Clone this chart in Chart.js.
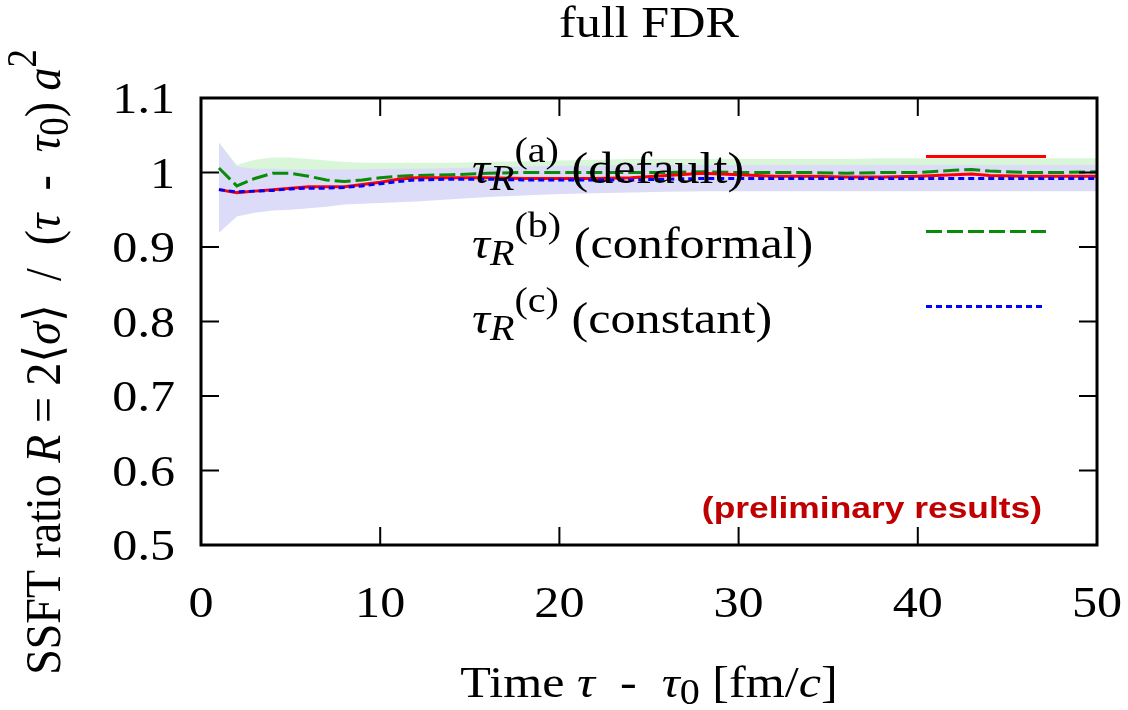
<!DOCTYPE html>
<html>
<head>
<meta charset="utf-8">
<script src="https://cdn.jsdelivr.net/npm/chart.js@4.4.0/dist/chart.umd.min.js"></script>
<style>
  body { margin: 0; background: #fff; }
  #wrap { width: 1128px; height: 710px; position: relative; }
</style>
</head>
<body>
<div id="wrap"><canvas id="grafico"></canvas></div>
<script>
// tempo tau - tau0 [fm/c]
const tempos = [1, 2, 3, 4, 5, 6, 7, 8, 9, 10, 11, 12, 14, 16, 18, 20, 22, 24, 26, 28, 30, 32, 34, 36, 38, 40, 42, 43, 44, 46, 48, 50];

// curvas
const razaoDefault = [0.977, 0.973, 0.975, 0.977, 0.979, 0.981, 0.981, 0.981, 0.984, 0.987, 0.991, 0.993, 0.993, 0.993, 0.992, 0.992, 0.992, 0.993, 0.996, 0.999, 0.997, 0.995, 0.995, 0.994, 0.994, 0.995, 0.997, 0.998, 0.996, 0.995, 0.995, 0.995];
const razaoConformal = [1.006, 0.982, 0.992, 0.999, 0.999, 0.995, 0.990, 0.988, 0.990, 0.993, 0.995, 0.996, 0.997, 0.999, 1.000, 1.000, 1.000, 1.000, 1.000, 1.001, 1.000, 1.000, 1.000, 0.999, 1.000, 1.000, 1.003, 1.004, 1.002, 1.000, 1.000, 1.001];
const razaoConstant = [0.977, 0.974, 0.975, 0.976, 0.978, 0.979, 0.979, 0.980, 0.982, 0.985, 0.988, 0.990, 0.991, 0.991, 0.990, 0.990, 0.990, 0.990, 0.991, 0.992, 0.992, 0.992, 0.992, 0.992, 0.992, 0.992, 0.992, 0.992, 0.992, 0.992, 0.992, 0.992];

// faixas de erro
const faixaAzulSup = [1.040, 1.008, 1.005, 1.005, 1.004, 1.004, 1.004, 1.004, 1.004, 1.005, 1.005, 1.005, 1.006, 1.007, 1.008, 1.009, 1.009, 1.010, 1.010, 1.010, 1.010, 1.010, 1.010, 1.010, 1.010, 1.010, 1.010, 1.010, 1.010, 1.010, 1.010, 1.010];
const faixaAzulInf = [0.919, 0.941, 0.946, 0.949, 0.950, 0.952, 0.954, 0.957, 0.958, 0.959, 0.960, 0.961, 0.964, 0.967, 0.969, 0.971, 0.972, 0.973, 0.974, 0.975, 0.975, 0.975, 0.975, 0.975, 0.975, 0.975, 0.975, 0.975, 0.975, 0.975, 0.975, 0.975];
const faixaVerdeSup = [1.040, 1.010, 1.017, 1.020, 1.020, 1.018, 1.016, 1.014, 1.013, 1.013, 1.013, 1.013, 1.013, 1.014, 1.015, 1.016, 1.017, 1.018, 1.018, 1.018, 1.018, 1.018, 1.018, 1.018, 1.019, 1.019, 1.019, 1.019, 1.019, 1.019, 1.019, 1.019];
const faixaVerdeInf = [0.985, 0.962, 0.972, 0.979, 0.980, 0.976, 0.972, 0.970, 0.971, 0.973, 0.975, 0.976, 0.977, 0.979, 0.980, 0.980, 0.980, 0.980, 0.980, 0.981, 0.980, 0.980, 0.980, 0.979, 0.980, 0.980, 0.983, 0.984, 0.982, 0.980, 0.980, 0.981];

const ticksX = [0, 10, 20, 30, 40, 50];
const ticksY = [0.5, 0.6, 0.7, 0.8, 0.9, 1.0, 1.1];
const rotulosY = ["0.5", "0.6", "0.7", "0.8", "0.9", "1", "1.1"];

const SERIF = '"Liberation Serif", "Times New Roman", "DejaVu Serif", serif';
const TAM = 44;     // tamanho da fonte
const SX = 1.14;    // o original esta esticado na horizontal

function pontos(valores) {
  return tempos.map((t, i) => ({ x: t, y: valores[i] }));
}

function fonte(s, tam) {
  return (s.i ? 'italic ' : '') + tam + 'px ' + SERIF;
}

function escrever(ctx, segs, x, y, tam, opts) {
  ctx.save();
  ctx.translate(x, y);
  if (opts.rot) ctx.rotate(opts.rot);
  ctx.scale(opts.sx || 1, opts.sy || 1);
  let w = 0;
  for (const s of segs) {
    ctx.font = fonte(s, (s.sub || s.sup) ? tam * 0.8 : tam);
    w += ctx.measureText(s.t).width;
  }
  let cx = opts.align === 'center' ? -w / 2 : opts.align === 'right' ? -w : 0;
  ctx.textAlign = 'left';
  ctx.textBaseline = 'alphabetic';
  ctx.fillStyle = opts.cor || '#000';
  for (const s of segs) {
    const t = (s.sub || s.sup) ? tam * 0.8 : tam;
    ctx.font = fonte(s, t);
    const dy = s.sub ? tam * 0.16 : s.sup ? -tam * 0.46 : 0;
    ctx.fillText(s.t, cx, dy);
    cx += ctx.measureText(s.t).width;
  }
  ctx.restore();
}

const legendas = [
  { segs: [{ t: 'τ', i: 1 }, { t: 'R', i: 1, sub: 1 }, { t: '(a)', sup: 1 }, { t: ' (default)' }], cor: '#ff0000', dash: [] },
  { segs: [{ t: 'τ', i: 1 }, { t: 'R', i: 1, sub: 1 }, { t: '(b)', sup: 1 }, { t: ' (conformal)' }], cor: '#0a8c0a', dash: [16, 5] },
  { segs: [{ t: 'τ', i: 1 }, { t: 'R', i: 1, sub: 1 }, { t: '(c)', sup: 1 }, { t: ' (constant)' }], cor: '#0000ff', dash: [6, 4] }
];

const moldura = {
  id: 'moldura',
  afterDatasetsDraw(chart) {
    const ctx = chart.ctx;
    const ca = chart.chartArea;
    const sx = chart.scales.x, sy = chart.scales.y;

    // legenda
    legendas.forEach((l, i) => {
      escrever(ctx, l.segs, ca.left + 271, ca.top + 84.5 + i * 75, TAM, { sx: SX });
      ctx.save();
      ctx.strokeStyle = l.cor;
      ctx.lineWidth = 3;
      ctx.setLineDash(l.dash);
      ctx.beginPath();
      ctx.moveTo(ca.left + 725, ca.top + 58.5 + i * 75);
      ctx.lineTo(ca.left + 845, ca.top + 58.5 + i * 75);
      ctx.stroke();
      ctx.restore();
    });

    // (preliminary results)
    ctx.save();
    ctx.translate(ca.right - 55, ca.bottom - 27);
    ctx.scale(1.22, 1);
    ctx.font = 'bold 29px "Liberation Sans", Arial, sans-serif';
    ctx.fillStyle = '#c00000';
    ctx.textAlign = 'right';
    ctx.textBaseline = 'alphabetic';
    ctx.fillText('(preliminary results)', 0, 0);
    ctx.restore();

    // ticks para dentro
    ctx.save();
    ctx.strokeStyle = '#000';
    ctx.lineWidth = 2;
    ctx.beginPath();
    ticksX.forEach(v => {
      const px = sx.getPixelForValue(v);
      ctx.moveTo(px, ca.bottom); ctx.lineTo(px, ca.bottom - 18);
      ctx.moveTo(px, ca.top); ctx.lineTo(px, ca.top + 18);
    });
    ticksY.forEach(v => {
      const py = sy.getPixelForValue(v);
      ctx.moveTo(ca.left, py); ctx.lineTo(ca.left + 18, py);
      ctx.moveTo(ca.right, py); ctx.lineTo(ca.right - 18, py);
    });
    ctx.stroke();
    ctx.lineWidth = 3;
    ctx.strokeRect(ca.left, ca.top, ca.right - ca.left, ca.bottom - ca.top);
    ctx.restore();

    // rotulos dos ticks
    ticksY.forEach((v, i) => {
      escrever(ctx, [{ t: rotulosY[i] }], ca.left - 26, sy.getPixelForValue(v) + 15, TAM, { sx: SX, align: 'right' });
    });
    ticksX.forEach(v => {
      escrever(ctx, [{ t: String(v) }], sx.getPixelForValue(v), ca.bottom + 72, TAM, { sx: SX, align: 'center' });
    });

    // titulos
    const meio = (ca.left + ca.right) / 2;
    escrever(ctx, [{ t: 'full FDR' }], meio, 37, TAM, { sx: SX, align: 'center' });
    escrever(ctx, [
      { t: 'Time ' }, { t: 'τ', i: 1 }, { t: '  -  ' }, { t: 'τ', i: 1 }, { t: '0', sub: 1 },
      { t: ' [fm/' }, { t: 'c', i: 1 }, { t: ']' }
    ], meio, ca.bottom + 152, TAM, { sx: SX, align: 'center' });
    escrever(ctx, [
      { t: 'SSFT ratio ' }, { t: 'R', i: 1 }, { t: ' = 2⟨' }, { t: 'σ', i: 1 }, { t: '⟩  /  (' },
      { t: 'τ', i: 1 }, { t: '  -  ' }, { t: 'τ', i: 1 }, { t: '0', sub: 1 }, { t: ') ' },
      { t: 'a', i: 1 }, { t: '2', sup: 1 }
    ], 60, 362, 46, { rot: -Math.PI / 2, sy: 1.12, align: 'center' });
  }
};

const linha = (rotulo, valores, cor, dash, ordem) => ({
  label: rotulo,
  data: pontos(valores),
  borderColor: cor,
  borderWidth: 3,
  borderDash: dash,
  pointRadius: 0,
  tension: 0,
  fill: false,
  order: ordem
});

const faixa = (valores, cor, preenche, ordem) => ({
  data: pontos(valores),
  borderWidth: 0,
  borderColor: 'rgba(0,0,0,0)',
  backgroundColor: cor,
  pointRadius: 0,
  tension: 0,
  fill: preenche,
  order: ordem
});

const chart = new Chart(document.getElementById('grafico'), {
  type: 'line',
  data: {
    datasets: [
      linha('default', razaoDefault, '#ff0000', [], 1),
      linha('conformal', razaoConformal, '#0a8c0a', [16, 5], 2),
      linha('constant', razaoConstant, '#0000ff', [6, 4], 0),
      faixa(faixaAzulSup, '#dcdcf8', '+1', 5),
      faixa(faixaAzulInf, '#dcdcf8', false, 5),
      faixa(faixaVerdeSup, '#d9f6d9', '+1', 6),
      faixa(faixaVerdeInf, '#d9f6d9', false, 6)
    ]
  },
  options: {
    responsive: true,
    maintainAspectRatio: false,
    animation: false,
    layout: { padding: { left: 201, right: 31, top: 98, bottom: 165 } },
    plugins: {
      legend: { display: false },
      tooltip: { enabled: false }
    },
    scales: {
      x: { type: 'linear', min: 0, max: 50, display: false },
      y: { type: 'linear', min: 0.5, max: 1.1, display: false }
    }
  },
  plugins: [moldura]
});
</script>
</body>
</html>
